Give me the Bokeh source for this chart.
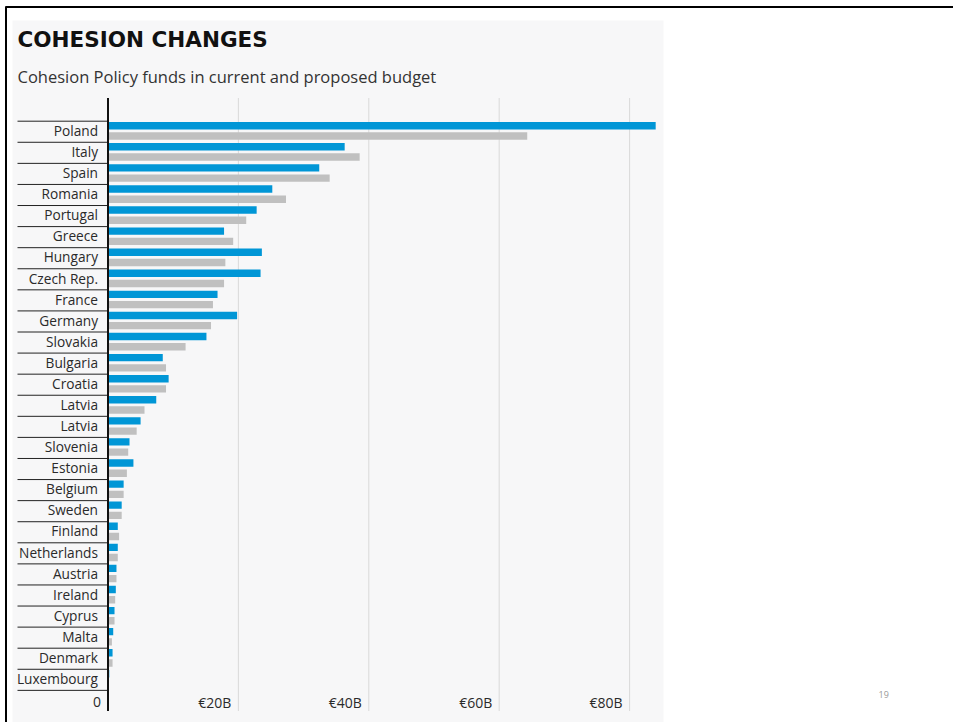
import numpy as np
from bokeh.plotting import figure
from bokeh.models import Range1d, ColumnDataSource
from bokeh.core.properties import value
from bokeh.embed import file_html
from bokeh.resources import INLINE

# ---- data -------------------------------------------------------------
countries = ["Poland", "Italy", "Spain", "Romania", "Portugal", "Greece", "Hungary",
             "Czech Rep.", "France", "Germany", "Slovakia", "Bulgaria", "Croatia",
             "Latvia", "Latvia", "Slovenia", "Estonia", "Belgium", "Sweden", "Finland",
             "Netherlands", "Austria", "Ireland", "Cyprus", "Malta", "Denmark", "Luxembourg"]
blue_vals = [84.0, 36.3, 32.4, 25.2, 22.8, 17.8, 23.6, 23.4, 16.8, 19.8, 15.1, 8.4, 9.3,
             7.4, 5.0, 3.3, 3.9, 2.4, 2.1, 1.5, 1.5, 1.3, 1.2, 1.0, 0.8, 0.7, 0.2]
gray_vals = [64.3, 38.6, 34.0, 27.3, 21.2, 19.2, 18.0, 17.8, 16.1, 15.8, 11.9, 8.9, 8.9,
             5.6, 4.4, 3.1, 2.9, 2.4, 2.1, 1.7, 1.5, 1.3, 1.1, 1.0, 0.6, 0.7, 0.1]
tick_values = [0, 20, 40, 60, 80]
tick_labels = ["0", "€20B", "€40B", "€60B", "€80B"]
title_text = "COHESION CHANGES"
subtitle_text = "Cohesion Policy funds in current and proposed budget"
page_number = "19"

# ---- layout constants (pixels) ---------------------------------------
W, H = 953, 722
X0 = 107.5          # pixel position of value 0
PX_PER_B = 6.52     # pixels per billion
ROW_TOP = 120.7     # top of first row
ROW_H = 21.08       # row height
PLOT_TOP, PLOT_BOTTOM = 97.5, 710.5

BLUE = "#0096d6"
GRAY = "#c0c0c0"

p = figure(width=W, height=H, x_range=Range1d(0, W), y_range=Range1d(H, 0),
           min_border=0, x_axis_location=None, y_axis_location=None,
           toolbar_location=None, output_backend="svg", title=None,
           background_fill_color="white", border_fill_color="white",
           outline_line_color=None)
p.grid.visible = False
p.extra_x_ranges = {"val": Range1d(-X0 / PX_PER_B, (W - X0) / PX_PER_B)}
p.extra_y_ranges = {"row": Range1d((H - ROW_TOP) / ROW_H, -ROW_TOP / ROW_H)}

rows = np.arange(len(countries))

# panel background
p.quad(left=[12], right=[663], top=[20], bottom=[H], fill_color="#f7f7f8", line_color=None)
# slide border
p.segment(x0=[5, 5.5], y0=[6.5, 6], x1=[W, 5.5], y1=[6.5, H], line_color="black", line_width=2)

# gridlines
p.segment(x0=tick_values[1:], x1=tick_values[1:], y0=PLOT_TOP, y1=PLOT_BOTTOM,
          line_color="#d9d9d9", line_width=1, x_range_name="val")

# bars
src = ColumnDataSource(dict(row=rows, country=countries, blue=blue_vals, gray=gray_vals,
                            yb=rows + 0.215, yg=rows + 0.70, yl=rows + 0.44))
p.hbar(y="yb", left=0, right="blue", height=0.35, source=src, fill_color=BLUE,
       line_color=None, x_range_name="val", y_range_name="row")
p.hbar(y="yg", left=0, right="gray", height=0.35, source=src, fill_color=GRAY,
       line_color=None, x_range_name="val", y_range_name="row")

# row separators
bounds = np.arange(len(countries) + 1)
p.segment(x0=17, x1=X0, y0=bounds, y1=bounds, line_color="#222222", line_width=1,
          y_range_name="row")

# axis line
p.segment(x0=[0], x1=[0], y0=[PLOT_TOP], y1=[PLOT_BOTTOM], line_color="#111111",
          line_width=2, x_range_name="val")

# row labels
p.text(x=0, y="yl", text="country", source=src, x_offset=-10, text_align="right",
       text_baseline="middle", text_font=value("Open Sans"), text_font_size="13.7px",
       text_color="#2a2a2a", x_range_name="val", y_range_name="row")

# tick labels
p.text(x=tick_values, y=[701.7] * len(tick_values), text=tick_labels, x_offset=-7,
       text_align="right", text_baseline="middle", text_font=value("Open Sans"),
       text_font_size="14px", text_color="#2a2a2a", x_range_name="val")

# title & subtitle
p.text(x=[17], y=[38.8], text=[title_text], text_font=value("DejaVu Sans"),
       text_font_style="bold", text_font_size="21.5px", text_color="#111111",
       text_baseline="middle")
p.text(x=[17], y=[76], text=[subtitle_text], text_font=value("Open Sans"),
       text_font_size="16.5px", text_color="#333333", text_baseline="middle")

# page number
p.text(x=[878], y=[693.5], text=[page_number], text_font=value("Open Sans"),
       text_font_size="9px", text_color="#999999", text_baseline="middle")

open("out.html", "w").write(file_html(p, INLINE))
